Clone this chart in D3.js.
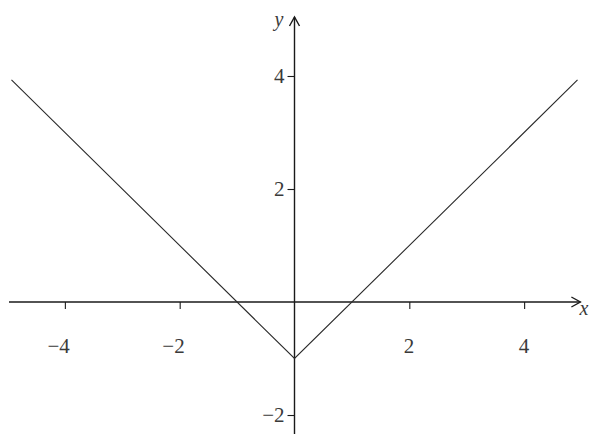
<!DOCTYPE html>
<html>
<head>
<meta charset="utf-8">
<script src="https://cdn.jsdelivr.net/npm/d3@7"></script>
<style>
  html, body { margin: 0; padding: 0; background: #ffffff; }
  svg { display: block; }
</style>
</head>
<body>
<svg id="chart" width="589" height="434"></svg>
<script>
// y = |x| - 1, drawn as its two straight pieces
const curveX = [-4.93, 0, 4.93];
const curveY = [3.93, -1, 3.93];

const xTicks = [-4, -2, 2, 4];
const yTicks = [-2, 2, 4];
const xTickLabels = ["\u22124", "\u22122", "2", "4"];
const yTickLabels = ["\u22122", "2", "4"];

const W = 589, H = 434;
const FONT = "Liberation Serif, Tinos, DejaVu Serif, serif";
const svg = d3.select("#chart");

const x = d3.scaleLinear().domain([-5.13, 5.13]).range([0, W]);
const y = d3.scaleLinear().domain([-2.336, 5.345]).range([H, 0]);

const axisColor = "#1a1a1a";
const labelColor = "#3a3a3a";

// x axis line with open arrow head
svg.append("line")
  .attr("x1", 9).attr("x2", x(4.98))
  .attr("y1", y(0)).attr("y2", y(0))
  .attr("stroke", axisColor).attr("stroke-width", 1.4);
svg.append("path")
  .attr("d", `M${x(4.98) - 9},${y(0) - 5} L${x(4.98)},${y(0)} L${x(4.98) - 9},${y(0) + 5}`)
  .attr("fill", "none").attr("stroke", axisColor).attr("stroke-width", 1.4);

// y axis line with open arrow head
const yTop = 17;
svg.append("line")
  .attr("x1", x(0)).attr("x2", x(0))
  .attr("y1", yTop).attr("y2", H)
  .attr("stroke", axisColor).attr("stroke-width", 1.4);
svg.append("path")
  .attr("d", `M${x(0) - 5},${yTop + 9} L${x(0)},${yTop} L${x(0) + 5},${yTop + 9}`)
  .attr("fill", "none").attr("stroke", axisColor).attr("stroke-width", 1.4);

// x ticks (below the axis)
const xAxis = d3.axisBottom(x).tickValues(xTicks).tickSize(7).tickSizeOuter(0).tickFormat("");
const gx = svg.append("g").attr("transform", `translate(0,${y(0)})`).call(xAxis);
gx.select(".domain").remove();
gx.selectAll(".tick line").attr("stroke", axisColor).attr("stroke-width", 1.1);

// x tick labels: digit centred on the tick, minus sign hanging left
svg.append("g").selectAll("text")
  .data(xTicks)
  .join("text")
  .attr("x", d => x(d) + 5)
  .attr("y", y(0) + 51)
  .attr("text-anchor", "end")
  .style("font-family", FONT)
  .attr("font-size", 21)
  .attr("fill", labelColor)
  .text((d, i) => xTickLabels[i]);

// y ticks (left of the axis)
const yAxis = d3.axisLeft(y).tickValues(yTicks).tickSize(7).tickSizeOuter(0).tickFormat("");
const gy = svg.append("g").attr("transform", `translate(${x(0)},0)`).call(yAxis);
gy.select(".domain").remove();
gy.selectAll(".tick line").attr("stroke", axisColor).attr("stroke-width", 1.1);

svg.append("g").selectAll("text")
  .data(yTicks)
  .join("text")
  .attr("x", x(0) - 10)
  .attr("y", d => y(d) + 7)
  .attr("text-anchor", "end")
  .style("font-family", FONT)
  .attr("font-size", 21)
  .attr("fill", labelColor)
  .text((d, i) => yTickLabels[i]);

// axis names
svg.append("text")
  .attr("x", 279).attr("y", 26)
  .attr("text-anchor", "middle")
  .style("font-family", FONT)
  .attr("font-size", 20).attr("font-style", "italic")
  .attr("fill", labelColor)
  .text("y");
svg.append("text")
  .attr("x", 584).attr("y", 315)
  .attr("text-anchor", "middle")
  .style("font-family", FONT)
  .attr("font-size", 20).attr("font-style", "italic")
  .attr("fill", labelColor)
  .text("x");

// the graph
const pts = curveX.map((v, i) => [v, curveY[i]]);
svg.append("path")
  .datum(pts)
  .attr("d", d3.line().x(d => x(d[0])).y(d => y(d[1])))
  .attr("fill", "none")
  .attr("stroke", "#2a2a2a")
  .attr("stroke-width", 1.1);
</script>
</body>
</html>
